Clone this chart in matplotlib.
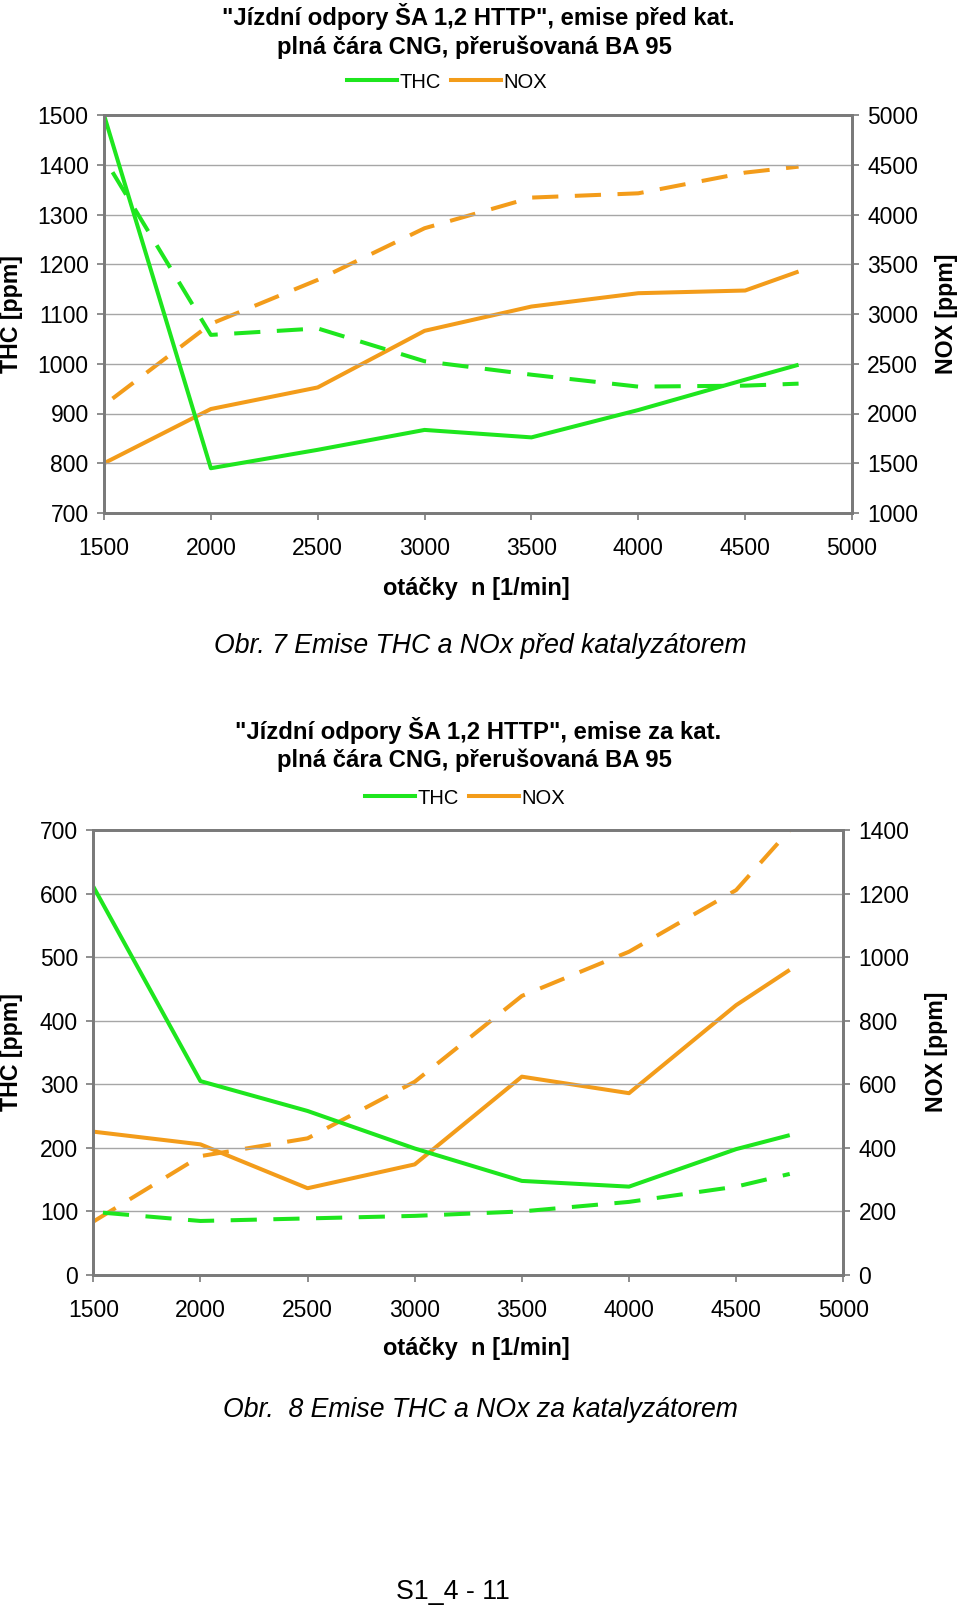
import matplotlib.pyplot as plt
import matplotlib.lines as mlines

plt.rcParams['font.family'] = ['Liberation Sans', 'DejaVu Sans']

# otáčky n [1/min]
rpm = [1500, 2000, 2500, 3000, 3500, 4000, 4500, 4750]
rpm_ba_pre = [1540, 2000, 2500, 3000, 3500, 4000, 4500, 4750]
rpm_ba_post_thc = [1545, 2000, 2500, 3000, 3500, 4000, 4500, 4750]

# Obr. 7 - emise před katalyzátorem
thc_pre_cng = [1500, 790, 827, 867, 852, 907, 968, 998]
thc_pre_ba = [1385, 1058, 1071, 1005, 978, 954, 956, 960]
nox_pre_cng = [1500, 2045, 2262, 2831, 3075, 3209, 3236, 3427]
nox_pre_ba = [2150, 2901, 3343, 3862, 4170, 4213, 4421, 4481]

# Obr. 8 - emise za katalyzátorem
thc_post_cng = [611, 305, 258, 199, 148, 139, 198, 220]
thc_post_ba = [98, 85, 89, 93, 100, 115, 139, 159]
nox_post_cng = [451, 411, 273, 348, 624, 572, 849, 960]
nox_post_ba = [168, 374, 430, 608, 878, 1017, 1211, 1400]

x_ticks = [1500, 2000, 2500, 3000, 3500, 4000, 4500, 5000]

GREEN = '#1EE61E'
ORANGE = '#F39C1A'
GRID = '#A6A6A6'
SPINE = '#7A7A7A'
LW = 2.9
DASH = (6.5, 4.1)

W, H = 960, 1607
fig = plt.figure(figsize=(W / 100, H / 100), dpi=100)


def px(x, y):
    return x / W, 1 - y / H


def make_chart(rect, thc_cng, thc_ba, rpm_thc_ba, rpm_nox_ba, nox_cng, nox_ba,
               thc_lim, thc_step, nox_lim, nox_step):
    ax = fig.add_axes(rect)
    ax2 = ax.twinx()
    ax.set_zorder(ax2.get_zorder() + 1)
    ax.patch.set_visible(False)

    ax2.plot(rpm, nox_cng, color=ORANGE, lw=LW, solid_capstyle='butt')
    ax2.plot(rpm_nox_ba, nox_ba, color=ORANGE, lw=LW, dashes=DASH)
    ax.plot(rpm, thc_cng, color=GREEN, lw=LW, solid_capstyle='butt')
    ax.plot(rpm_thc_ba, thc_ba, color=GREEN, lw=LW, dashes=DASH)

    ax.set_xlim(1500, 5000)
    ax.set_xticks(x_ticks)
    ax.set_ylim(*thc_lim)
    ax.set_yticks(range(thc_lim[0], thc_lim[1] + 1, thc_step))
    ax2.set_ylim(*nox_lim)
    ax2.set_yticks(range(nox_lim[0], nox_lim[1] + 1, nox_step))

    ax.grid(axis='y', color=GRID, lw=1.0)
    ax.set_axisbelow(True)
    for a in (ax, ax2):
        for s in a.spines.values():
            s.set_color(SPINE)
            s.set_linewidth(2.0)
        a.tick_params(colors=SPINE, labelcolor='black', labelsize=16.5,
                      length=5, width=1.2, direction='out')
    ax.tick_params(axis='y', pad=6)
    ax.tick_params(axis='x', pad=12)
    ax2.tick_params(axis='y', pad=6)
    return ax


def legend_at(x, y):
    h = [mlines.Line2D([], [], color=GREEN, lw=LW),
         mlines.Line2D([], [], color=ORANGE, lw=LW)]
    fig.legend(h, ['THC', 'NOX'], loc='center', bbox_to_anchor=px(x, y),
               ncol=2, frameon=False, fontsize=14.5, handlelength=2.5,
               handletextpad=0.1, columnspacing=0.5)


def texts(y_title, y_leg, x_leg, y_mid, x_nox, y_xlab, y_cap, title1, cap):
    fig.text(*px(478, y_title), title1, ha='center', va='center',
             fontsize=17.2, fontweight='bold')
    fig.text(*px(474, y_title + 30), 'plná čára CNG, přerušovaná BA 95',
             ha='center', va='center', fontsize=17.2, fontweight='bold')
    legend_at(x_leg, y_leg)
    fig.text(*px(12, y_mid), 'THC [ppm]', rotation=90, ha='center',
             va='center', fontsize=16.7, fontweight='bold')
    fig.text(*px(x_nox, y_mid), 'NOX [ppm]', rotation=90, ha='center',
             va='center', fontsize=16.7, fontweight='bold')
    fig.text(*px(476, y_xlab), 'otáčky  n [1/min]', ha='center', va='center',
             fontsize=17, fontweight='bold')
    fig.text(*px(480, y_cap), cap, ha='center', va='center',
             fontsize=19.2, style='italic')


# ---- Obr. 7 ----
make_chart([104 / W, 1 - 513 / H, 748 / W, 398 / H],
           thc_pre_cng, thc_pre_ba, rpm_ba_pre, rpm_ba_pre,
           nox_pre_cng, nox_pre_ba, (700, 1500), 100, (1000, 5000), 500)
texts(17, 82, 447, 314, 946, 589, 646,
      '"Jízdní odpory ŠA 1,2 HTTP", emise před kat.',
      'Obr. 7 Emise THC a NOx před katalyzátorem')

# ---- Obr. 8 ----
make_chart([93.3 / W, 1 - 1275 / H, 750 / W, 445 / H],
           thc_post_cng, thc_post_ba, rpm_ba_post_thc, rpm,
           nox_post_cng, nox_post_ba, (0, 700), 100, (0, 1400), 200)
texts(730, 798, 465, 1052, 936, 1349, 1410,
      '"Jízdní odpory ŠA 1,2 HTTP", emise za kat.',
      'Obr.  8 Emise THC a NOx za katalyzátorem')

fig.text(*px(453, 1592), 'S1_4 - 11', ha='center', va='center', fontsize=19.3)

fig.savefig('out.png', dpi=100)
